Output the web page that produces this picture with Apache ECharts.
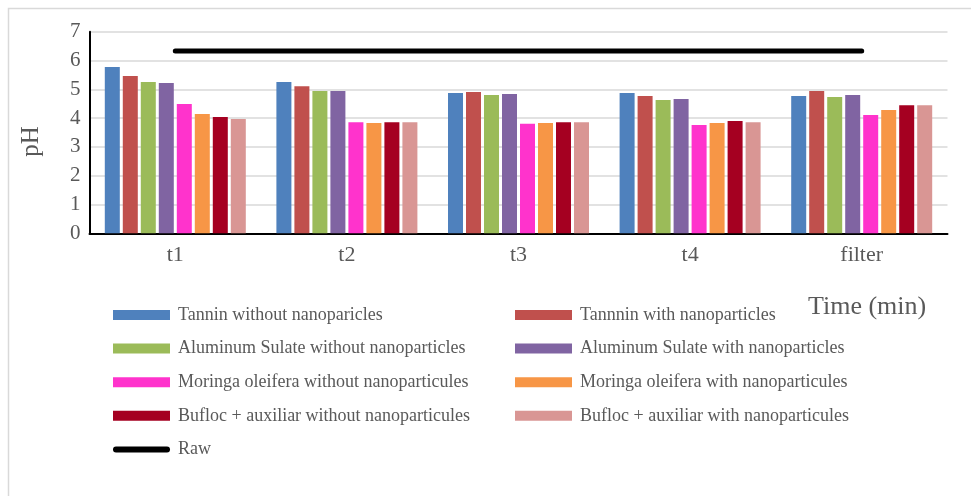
<!DOCTYPE html>
<html>
<head>
<meta charset="utf-8">
<script src="https://cdn.jsdelivr.net/npm/echarts@6/dist/echarts.min.js"></script>
<style>
html,body{margin:0;padding:0;background:#fff;}
#chart{width:971px;height:496px;}
</style>
</head>
<body>
<div id="chart"></div>
<script>
const categories = ['t1', 't2', 't3', 't4', 'filter'];
const yTicks = [0, 1, 2, 3, 4, 5, 6, 7];

const tanninWithout = [5.77, 5.25, 4.87, 4.87, 4.77];
const tanninWith = [5.46, 5.11, 4.91, 4.77, 4.94];
const alumWithout = [5.25, 4.94, 4.80, 4.63, 4.73];
const alumWith = [5.22, 4.94, 4.84, 4.66, 4.80];
const moringaWithout = [4.49, 3.86, 3.80, 3.76, 4.11];
const moringaWith = [4.14, 3.83, 3.83, 3.83, 4.28];
const buflocWithout = [4.04, 3.86, 3.86, 3.90, 4.45];
const buflocWith = [3.97, 3.86, 3.86, 3.86, 4.45];
const raw = [6.33, 6.33, 6.33, 6.33, 6.33];

const barSeries = [
  {name: 'Tannin without nanoparicles', data: tanninWithout, color: '#4F81BD'},
  {name: 'Tannnin with nanoparticles', data: tanninWith, color: '#C0504D'},
  {name: 'Aluminum Sulate without nanoparticles', data: alumWithout, color: '#9BBB59'},
  {name: 'Aluminum Sulate with nanoparticles', data: alumWith, color: '#8064A2'},
  {name: 'Moringa oleifera without nanoparticules', data: moringaWithout, color: '#FF33CC'},
  {name: 'Moringa oleifera with nanoparticules', data: moringaWith, color: '#F79646'},
  {name: 'Bufloc + auxiliar without nanoparticules', data: buflocWithout, color: '#A50021'},
  {name: 'Bufloc + auxiliar with nanoparticules', data: buflocWith, color: '#D99694'}
];

const FONT = 'Liberation Serif';
const TXT = '#595959';

const series = barSeries.map(s => ({
  name: s.name,
  type: 'bar',
  data: s.data,
  barWidth: 15,
  barGap: '20%',
  itemStyle: {color: s.color},
  emphasis: {disabled: true},
  z: 2
}));
series.push({
  name: 'Raw',
  type: 'line',
  data: raw,
  symbol: 'none',
  lineStyle: {color: '#000', width: 5, cap: 'round'},
  itemStyle: {color: '#000'},
  emphasis: {disabled: true},
  z: 5
});

const legendCommon = {
  orient: 'vertical',
  top: 300,
  itemWidth: 57,
  itemHeight: 10,
  itemGap: 13.6,
  selectedMode: false,
  textStyle: {fontFamily: FONT, fontSize: 18, color: TXT, lineHeight: 20, padding: [0, 0, 0, 3]}
};

const rawIcon = 'path://M3,2L54,2A3,3,0,0,1,54,8L3,8A3,3,0,0,1,3,2ZM0,0M57,10';

const option = {
  backgroundColor: '#fff',
  animation: false,
  grid: {left: 89.5, right: 23.5, top: 31.7, bottom: 262.7, containLabel: false},
  xAxis: {
    type: 'category',
    data: categories,
    axisLine: {lineStyle: {color: '#000', width: 2}},
    axisTick: {show: false},
    axisLabel: {fontFamily: FONT, fontSize: 22, color: TXT, margin: 11},
    splitLine: {show: false}
  },
  yAxis: {
    type: 'value',
    min: yTicks[0],
    max: yTicks[yTicks.length - 1],
    interval: 1,
    name: 'pH',
    nameLocation: 'middle',
    nameGap: 46,
    nameTextStyle: {fontFamily: FONT, fontSize: 25, color: TXT, padding: [0, 18, 0, 0]},
    axisLine: {show: true, lineStyle: {color: '#000', width: 2}},
    axisTick: {show: false},
    axisLabel: {fontFamily: FONT, fontSize: 21, color: TXT, margin: 9},
    splitLine: {lineStyle: {color: '#d9d9d9', width: 1.5}}
  },
  legend: [
    Object.assign({}, legendCommon, {
      left: 108,
      data: [
        {name: barSeries[0].name, icon: 'rect'},
        {name: barSeries[2].name, icon: 'rect'},
        {name: barSeries[4].name, icon: 'rect'},
        {name: barSeries[6].name, icon: 'rect'},
        {name: 'Raw', icon: rawIcon, itemStyle: {color: '#000'}}
      ]
    }),
    Object.assign({}, legendCommon, {
      left: 510,
      data: [
        {name: barSeries[1].name, icon: 'rect'},
        {name: barSeries[3].name, icon: 'rect'},
        {name: barSeries[5].name, icon: 'rect'},
        {name: barSeries[7].name, icon: 'rect'}
      ]
    })
  ],
  graphic: [
    {
      type: 'rect',
      left: 6, top: 6,
      shape: {width: 1000, height: 600},
      style: {fill: 'none', stroke: '#d9d9d9', lineWidth: 1.5},
      silent: true, z: -10
    },
    {
      type: 'text',
      left: 808, top: 294,
      style: {text: 'Time (min)', fontFamily: FONT, fontSize: 26, fill: TXT}
    }
  ],
  series: series
};

const chart = echarts.init(document.getElementById('chart'));
chart.setOption(option);
</script>
</body>
</html>
